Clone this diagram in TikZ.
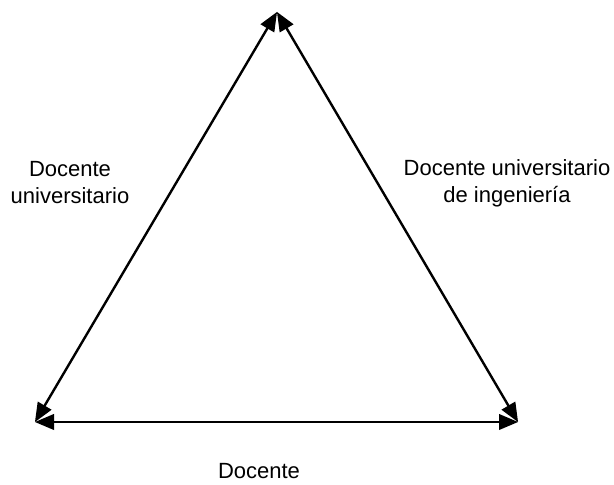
\documentclass[tikz,border=0pt]{standalone}
\usepackage{fontspec}
\setmainfont{Liberation Sans}
\usetikzlibrary{arrows}

\begin{document}
\begin{tikzpicture}[line cap=round,line join=round,>=triangle 45,x=0.5pt,y=0.5pt]
\useasboundingbox (0,0) rectangle (614,485);
\tikzset{lbl/.style={align=center,font=\fontsize{11}{13.5}\selectfont}}
\coordinate (top) at (277,473);
\coordinate (left) at (35,63);
\coordinate (right) at (518,63);
\draw [<->,line width=1.2pt] (left) -- (top);
\draw [<->,line width=1.2pt] (top) -- (right);
\draw [<->,line width=1.2pt] (left) -- (right);
\node[lbl] (univ) at (70,302) {Docente\\universitario};
\node[lbl] (ing) at (507,302) {Docente universitario\\de ingeniería};
\node[lbl] (doc) at (259,14) {Docente};
\end{tikzpicture}
\end{document}
